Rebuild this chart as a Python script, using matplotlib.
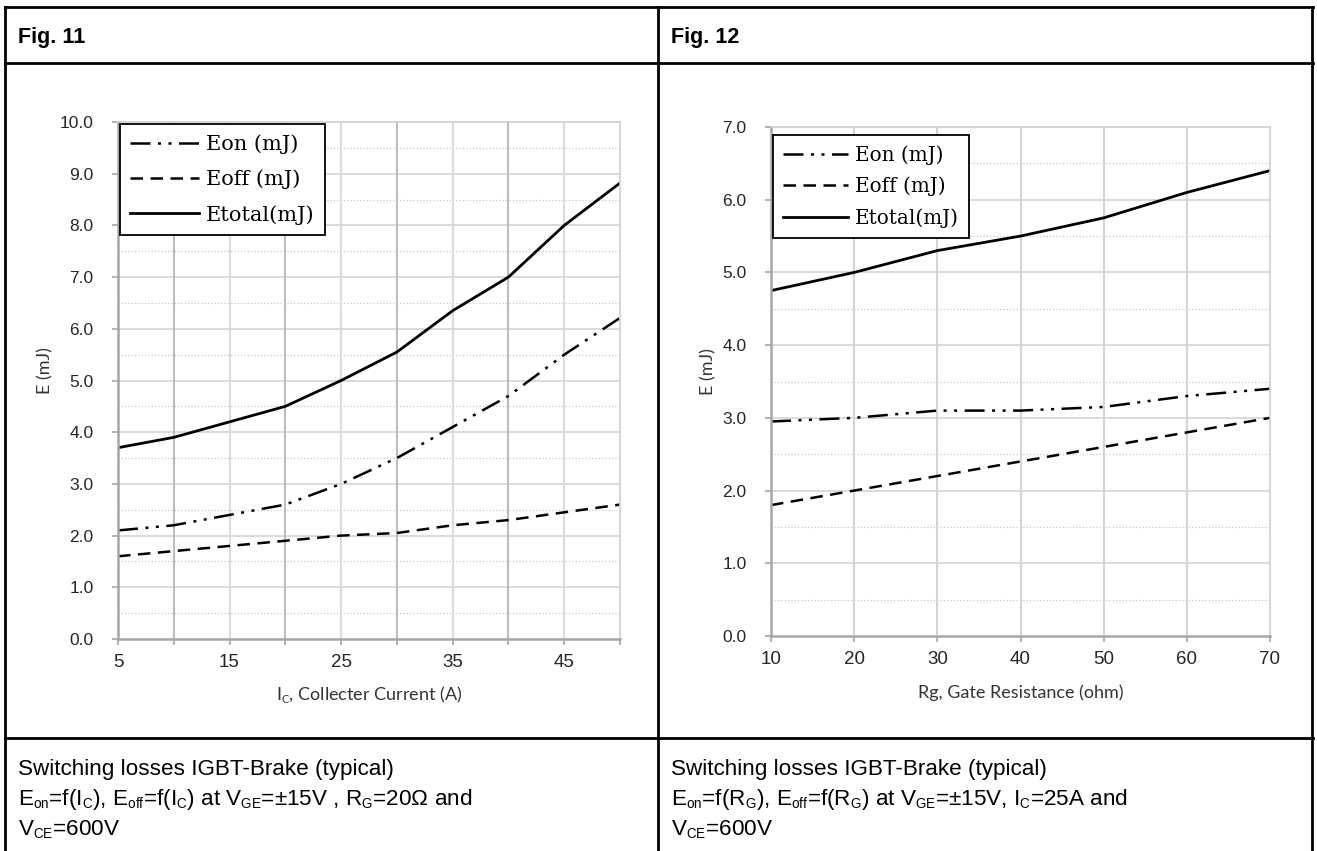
import matplotlib
import matplotlib.pyplot as plt
from matplotlib.lines import Line2D
import numpy as np

plt.rcParams['mathtext.fontset'] = 'custom'
plt.rcParams['mathtext.rm'] = 'Liberation Sans'
plt.rcParams['mathtext.it'] = 'Liberation Sans'
# smaller subscripts, like the word-processor captions
if hasattr(matplotlib, '_mathtext') and hasattr(matplotlib._mathtext, 'SHRINK_FACTOR'):
    matplotlib._mathtext.SHRINK_FACTOR = 0.6

# Fig. 11 : energy vs collector current
ic = [5, 10, 15, 20, 25, 30, 35, 40, 45, 50]
eon_ic = [2.1, 2.2, 2.4, 2.6, 3.0, 3.5, 4.1, 4.7, 5.5, 6.21]
eoff_ic = [1.6, 1.7, 1.8, 1.9, 2.0, 2.05, 2.2, 2.3, 2.45, 2.6]
etot_ic = [3.7, 3.9, 4.2, 4.5, 5.0, 5.55, 6.35, 7.0, 8.0, 8.82]

# Fig. 12 : energy vs gate resistance
rg = [10, 20, 30, 40, 50, 60, 70]
eon_rg = [2.95, 3.0, 3.1, 3.1, 3.15, 3.3, 3.4]
eoff_rg = [1.8, 2.0, 2.2, 2.4, 2.6, 2.8, 3.0]
etot_rg = [4.75, 5.0, 5.3, 5.5, 5.75, 6.1, 6.4]

labels = ['Eon (mJ)', 'Eoff (mJ)', 'Etotal(mJ)']

W, H = 1317, 851
fig = plt.figure(figsize=(W / 100, H / 100), dpi=100)


def px(x, y):
    return x / W, 1 - y / H


# table borders
def hline(y, x0, x1, lw=2.0):
    fig.add_artist(Line2D([x0 / W, x1 / W], [1 - y / H, 1 - y / H], color='black', lw=lw))


def vline(x, y0, y1, lw=2.0):
    fig.add_artist(Line2D([x / W, x / W], [1 - y0 / H, 1 - y1 / H], color='black', lw=lw))


hline(7, 5, 1313)
hline(63, 5, 1313)
hline(738, 5, 1313)
for xv in [5, 658, 1312]:
    vline(xv, 7, 851)

# headers
fig.text(*px(18, 37), 'Fig. 11', fontsize=15.5, fontweight='bold', family='Liberation Sans', va='center')
fig.text(*px(671, 37), 'Fig. 12', fontsize=15.5, fontweight='bold', family='Liberation Sans', va='center')

# captions
cap_kw = dict(fontsize=16.2, family='Liberation Sans', va='center')
fig.text(*px(18, 769), 'Switching losses IGBT-Brake (typical)', **cap_kw)
fig.text(*px(18, 800), r'E$_{\mathregular{on}}$=f(I$_{\mathregular{C}}$), E$_{\mathregular{off}}$=f(I$_{\mathregular{C}}$) at V$_{\mathregular{GE}}$=±15V , R$_{\mathregular{G}}$=20Ω and', **cap_kw)
fig.text(*px(18, 830), r'V$_{\mathregular{CE}}$=600V', **cap_kw)
fig.text(*px(671, 769), 'Switching losses IGBT-Brake (typical)', **cap_kw)
fig.text(*px(671, 800), r'E$_{\mathregular{on}}$=f(R$_{\mathregular{G}}$), E$_{\mathregular{off}}$=f(R$_{\mathregular{G}}$) at V$_{\mathregular{GE}}$=±15V, I$_{\mathregular{C}}$=25A and', **cap_kw)
fig.text(*px(671, 830), r'V$_{\mathregular{CE}}$=600V', **cap_kw)

ax1 = fig.add_axes([118 / W, 1 - 639 / H, 502 / W, 517 / H])
ax2 = fig.add_axes([771 / W, 1 - 636 / H, 499 / W, 509 / H])

styles = [dict(ls=(0, (8, 3, 1.2, 3, 1.2, 3)), lw=1.8),
          dict(ls=(0, (5, 3)), lw=1.8),
          dict(ls='-', lw=2.0)]


def style_axes(ax, xmin, xmax, xstep, ymax, xlabels):
    ax.set_xlim(xmin, xmax)
    ax.set_ylim(0, ymax)
    # minor dotted horizontal grid
    for yv in np.arange(0.5, ymax, 1.0):
        ax.axhline(yv, color='#c8c8c8', lw=0.9, ls=':', zorder=0)
    for yv in np.arange(1.0, ymax, 1.0):
        ax.axhline(yv, color='#d4d4d4', lw=1.2, zorder=0)
    ax.set_yticks(np.arange(0, ymax + 0.01, 1.0))
    ax.set_yticklabels([f'{v:.1f}' for v in np.arange(0, ymax + 0.01, 1.0)])
    ax.set_xticks(np.arange(xmin, xmax + 0.01, xstep))
    ax.set_xticklabels(xlabels)
    for s in ['top', 'right']:
        ax.spines[s].set_color('#cfcfcf')
        ax.spines[s].set_linewidth(1.2)
    for s in ['left', 'bottom']:
        ax.spines[s].set_color('#a6a6a6')
        ax.spines[s].set_linewidth(1.8)
    ax.tick_params(axis='both', direction='out', length=4.5, width=1.2, color='#a6a6a6',
                   labelcolor='#262626')
    ax.tick_params(axis='y', labelsize=12.5, pad=13)
    ax.tick_params(axis='x', labelsize=13.5, pad=6)
    for t in ax.get_xticklabels() + ax.get_yticklabels():
        t.set_family('Liberation Sans')
    ax.set_ylabel('E (mJ)', fontsize=13, family='Lato', color='#333333')


# Fig. 11
style_axes(ax1, 5, 50, 5, 10, ['5', '', '15', '', '25', '', '35', '', '45', ''])
for xv in range(10, 50, 5):
    ax1.axvline(xv, color='#bdbdbd' if xv % 10 == 0 else '#dcdcdc', lw=1.5, zorder=0)
ax1.plot(ic, eon_ic, color='black', label=labels[0], **styles[0])
ax1.plot(ic, eoff_ic, color='black', label=labels[1], **styles[1])
ax1.plot(ic, etot_ic, color='black', label=labels[2], **styles[2])
ax1.set_xlabel(r'I$_{\mathregular{C}}$, Collecter Current (A)', fontsize=13, family='Lato',
               color='#333333', labelpad=10)
ax1.yaxis.set_label_coords(-0.129, 0.52)

# Fig. 12
style_axes(ax2, 10, 70, 10, 7, [str(v) for v in range(10, 71, 10)])
for xv in range(20, 70, 10):
    ax2.axvline(xv, color='#d4d4d4', lw=1.5, zorder=0)
ax2.plot(rg, eon_rg, color='black', label=labels[0], **styles[0])
ax2.plot(rg, eoff_rg, color='black', label=labels[1], **styles[1])
ax2.plot(rg, etot_rg, color='black', label=labels[2], **styles[2])
ax2.set_xlabel('Rg, Gate Resistance (ohm)', fontsize=13, family='Lato',
               color='#333333', labelpad=12)
ax2.yaxis.set_label_coords(-0.109, 0.52)

for ax, anchor, fs, sp in [(ax1, (0.004, 0.996), 15, 0.75), (ax2, (0.004, 0.984), 14.4, 0.6)]:
    leg = ax.legend(loc='upper left', bbox_to_anchor=anchor, prop={'family': 'DejaVu Serif', 'size': fs},
                    handlelength=3.27, handletextpad=0.34, labelspacing=sp, borderpad=0.5,
                    fancybox=False, framealpha=1, borderaxespad=0)
    leg.get_frame().set_edgecolor('black')
    leg.get_frame().set_linewidth(1.3)

fig.savefig('out.png', dpi=100)
